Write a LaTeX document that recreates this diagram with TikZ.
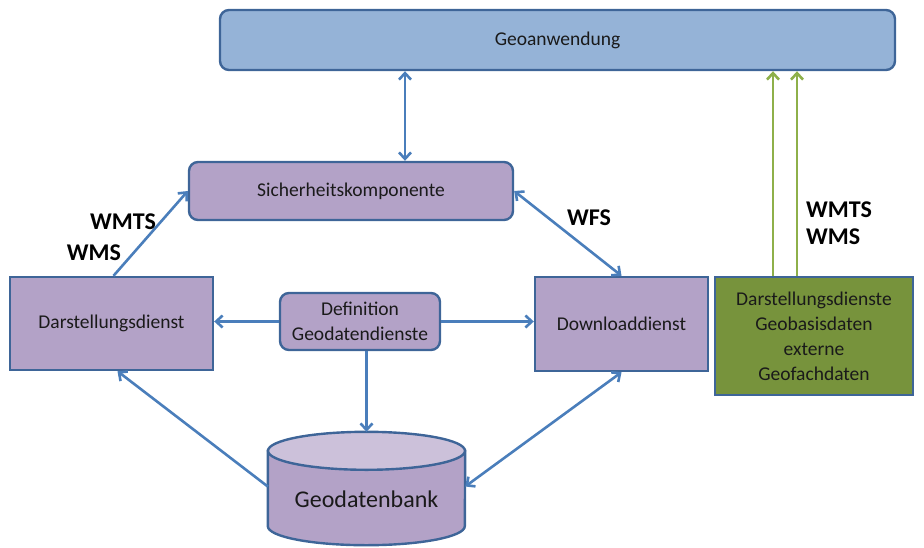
\documentclass[tikz,border=0pt]{standalone}
\usepackage{fontspec}
\setmainfont{Carlito}
\usetikzlibrary{arrows.meta}

\definecolor{appblue}{HTML}{95B3D7}
\definecolor{edgeblue}{HTML}{3E6598}
\definecolor{lila}{HTML}{B3A2C7}
\definecolor{lilatop}{HTML}{CCC1DA}
\definecolor{extgreen}{HTML}{77933C}
\definecolor{linkblue}{HTML}{4A7EBB}
\definecolor{linkgreen}{HTML}{8EB04A}
\definecolor{ink}{HTML}{1A1A1A}

\begin{document}
\begin{tikzpicture}[x=1pt, y=-1pt,
    >={Straight Barb[length=6.5pt, width=12pt]},
    box/.style={draw=edgeblue, line width=2.4pt, fill=lila, text=ink, align=center,
      inner sep=0pt, font=\fontsize{19.5}{25}\selectfont},
    rbox/.style={box, rounded corners=9pt},
    link/.style={draw=linkblue, line width=2.6pt},
    extlink/.style={draw=linkgreen, line width=2.6pt},
    proto/.style={text=black, font=\bfseries\fontsize{24}{28}\selectfont, inner sep=0pt}]
                \useasboundingbox (0, 0) rectangle (924, 547);
                % Boxes
                \node [rbox, fill=appblue, minimum width=675pt, minimum height=60pt] (app) at (557.5, 40) {Geoanwendung};
                \node [rbox, minimum width=324pt, minimum height=58pt] (sec) at (351, 191) {Sicherheitskomponente};
                \node [box, minimum width=203pt, minimum height=93pt] (darst) at (111.5, 323.5) {Darstellungsdienst};
                \node [rbox, minimum width=160pt, minimum height=57pt] (defn) at (360, 321.5) {Definition\\Geodatendienste};
                \node [box, minimum width=173pt, minimum height=94pt] (down) at (621.5, 324) {Downloaddienst};
                \node [box, fill=extgreen, minimum width=198pt, minimum height=118pt] (ext) at (814, 336) {Darstellungsdienste\\Geobasisdaten\\externe\\Geofachdaten};
                % Geodatenbank
                \node [minimum width=197pt, minimum height=113pt, inner sep=0pt] (db) at (366.5, 488.5) {};
                \filldraw [draw=edgeblue, line width=2.4pt, fill=lila] ([yshift=-19pt]db.north west) -- ([yshift=19pt]db.south west)
                    arc [start angle=180, end angle=360, x radius=98.5pt, y radius=19pt]
                    -- ([yshift=-19pt]db.north east) -- cycle;
                \filldraw [draw=edgeblue, line width=2.4pt, fill=lilatop] ([yshift=-19pt]db.north) ellipse [x radius=98.5pt, y radius=19pt];
                \node [text=ink, font=\fontsize{24}{28}\selectfont] (dbname) at ([yshift=-11pt]db.center) {Geodatenbank};
                % Connectors
                \draw [link, <->] ([xshift=54pt]sec.north) -- ([xshift=54pt]sec.north |- app.south);
                \draw [link, ->] ([xshift=2pt]darst.north) -- (sec.west);
                \draw [link, <->] (sec.east) -- (down.north);
                \draw [link, ->] ([yshift=2pt]db.west) -- ([xshift=6pt]darst.south);
                \draw [link, <->] ([yshift=2pt]db.east) -- (down.south);
                \draw [link, ->] (defn.west) -- (defn.west -| darst.east);
                \draw [link, ->] (defn.east) -- (defn.east -| down.west);
                \draw [link, ->] (defn.south -| db.north) -- (db.north);
                \draw [extlink, ->] ([xshift=-41pt]ext.north) -- ([xshift=-41pt]ext.north |- app.south);
                \draw [extlink, ->] ([xshift=-17pt]ext.north) -- ([xshift=-17pt]ext.north |- app.south);
                % Protocols
                \node [proto] (wmtsl) at (123, 222) {WMTS};
                \node [proto] (wmsl) at (94, 253) {WMS};
                \node [proto] (wfs) at (589, 218) {WFS};
                \node [proto, anchor=west] (wmtsr) at (806, 210) {WMTS};
                \node [proto, anchor=west] (wmsr) at (806, 237) {WMS};
\end{tikzpicture}
\end{document}
